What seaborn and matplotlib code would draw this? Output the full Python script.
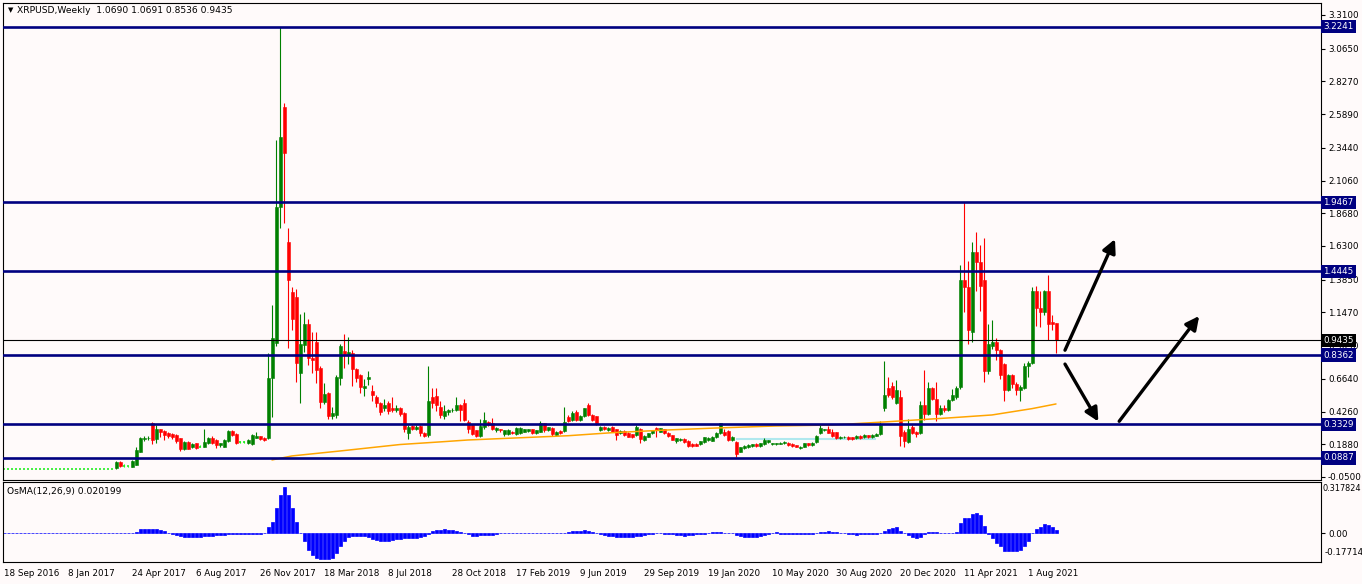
import matplotlib
matplotlib.use("Agg")
import matplotlib.pyplot as plt
import matplotlib.transforms as mtransforms
import numpy as np
import pandas as pd
import seaborn as sns

symbol = "XRPUSD"
timeframe = "Weekly"

# weekly candles, one value per bar (bar 0 = 18 Sep 2016)
opens = [
    0.01, 0.01, 0.01, 0.01, 0.01, 0.01, 0.01, 0.01, 0.01, 0.01,
    0.01, 0.01, 0.01, 0.01, 0.01, 0.01, 0.01, 0.01, 0.01, 0.01,
    0.01, 0.01, 0.01, 0.01, 0.01, 0.01, 0.01, 0.01, 0.012, 0.062,
    0.030, 0.028, 0.022, 0.040, 0.135, 0.225, 0.230, 0.340, 0.225, 0.296,
    0.285, 0.267, 0.262, 0.255, 0.230, 0.150, 0.205, 0.170, 0.195, 0.170,
    0.170, 0.195, 0.235, 0.220, 0.180, 0.170, 0.210, 0.285, 0.265, 0.206,
    0.206, 0.195, 0.190, 0.235, 0.245, 0.235, 0.231, 0.668, 0.922, 1.916,
    2.639, 1.661, 1.298, 1.261, 0.709, 0.910, 1.062, 0.818, 0.934, 0.741,
    0.498, 0.559, 0.394, 0.400, 0.668, 0.866, 0.840, 0.854, 0.733, 0.692,
    0.600, 0.660, 0.575, 0.530, 0.486, 0.450, 0.486, 0.455, 0.438, 0.455,
    0.418, 0.273, 0.324, 0.300, 0.324, 0.270, 0.252, 0.530, 0.540, 0.460,
    0.390, 0.425, 0.435, 0.440, 0.470, 0.485, 0.350, 0.327, 0.290, 0.248,
    0.310, 0.350, 0.340, 0.290, 0.296, 0.260, 0.260, 0.280, 0.263, 0.267,
    0.280, 0.287, 0.296, 0.267, 0.280, 0.340, 0.290, 0.303, 0.255, 0.285,
    0.285, 0.388, 0.364, 0.420, 0.364, 0.390, 0.475, 0.400, 0.390, 0.291,
    0.315, 0.290, 0.315, 0.296, 0.267, 0.286, 0.270, 0.260, 0.255, 0.300,
    0.222, 0.243, 0.267, 0.303, 0.280, 0.296, 0.270, 0.255, 0.214, 0.222,
    0.226, 0.214, 0.190, 0.190, 0.190, 0.206, 0.218, 0.214, 0.238, 0.267,
    0.280, 0.286, 0.218, 0.206, 0.134, 0.160, 0.165, 0.175, 0.190, 0.175,
    0.190, 0.206, 0.190, 0.190, 0.192, 0.194, 0.200, 0.190, 0.182, 0.160,
    0.170, 0.194, 0.182, 0.206, 0.267, 0.290, 0.296, 0.280, 0.274, 0.230,
    0.238, 0.243, 0.240, 0.230, 0.250, 0.240, 0.255, 0.240, 0.250, 0.260,
    0.450, 0.594, 0.610, 0.490, 0.530, 0.280, 0.205, 0.315, 0.280, 0.270,
    0.470, 0.410, 0.594, 0.520, 0.410, 0.455, 0.436, 0.510, 0.530, 0.605,
    1.380, 1.330, 1.007, 1.585, 1.510, 1.380, 0.720, 0.900, 0.930, 0.872,
    0.770, 0.585, 0.690, 0.625, 0.580, 0.595, 0.755, 0.780, 1.300, 1.180,
    1.150, 1.300, 1.080, 1.0690,
]
highs = [
    0.01, 0.01, 0.01, 0.01, 0.01, 0.01, 0.01, 0.01, 0.01, 0.01,
    0.01, 0.01, 0.01, 0.01, 0.01, 0.01, 0.01, 0.01, 0.01, 0.01,
    0.01, 0.01, 0.01, 0.01, 0.01, 0.01, 0.01, 0.01, 0.066, 0.068,
    0.045, 0.032, 0.075, 0.170, 0.240, 0.250, 0.245, 0.352, 0.330, 0.300,
    0.290, 0.275, 0.270, 0.262, 0.235, 0.215, 0.215, 0.195, 0.200, 0.180,
    0.300, 0.240, 0.245, 0.225, 0.200, 0.225, 0.290, 0.290, 0.270, 0.215,
    0.212, 0.225, 0.262, 0.275, 0.250, 0.240, 0.850, 1.200, 2.400, 3.225,
    2.668, 1.759, 1.334, 1.315, 1.135, 1.150, 1.100, 1.007, 1.007, 0.760,
    0.630, 0.565, 0.460, 0.690, 0.920, 0.990, 0.970, 0.870, 0.740, 0.700,
    0.660, 0.720, 0.620, 0.545, 0.495, 0.520, 0.500, 0.530, 0.470, 0.460,
    0.425, 0.330, 0.330, 0.325, 0.330, 0.275, 0.755, 0.600, 0.600, 0.500,
    0.470, 0.445, 0.450, 0.530, 0.480, 0.520, 0.365, 0.335, 0.295, 0.370,
    0.420, 0.360, 0.380, 0.315, 0.300, 0.295, 0.300, 0.285, 0.310, 0.310,
    0.300, 0.300, 0.300, 0.295, 0.360, 0.345, 0.315, 0.310, 0.285, 0.290,
    0.460, 0.400, 0.430, 0.440, 0.400, 0.455, 0.490, 0.410, 0.395, 0.320,
    0.320, 0.310, 0.320, 0.300, 0.290, 0.290, 0.275, 0.265, 0.330, 0.305,
    0.255, 0.270, 0.295, 0.310, 0.306, 0.300, 0.275, 0.258, 0.235, 0.230,
    0.230, 0.218, 0.195, 0.195, 0.215, 0.242, 0.240, 0.248, 0.276, 0.345,
    0.300, 0.290, 0.248, 0.212, 0.170, 0.180, 0.188, 0.192, 0.195, 0.198,
    0.235, 0.222, 0.200, 0.200, 0.202, 0.210, 0.204, 0.194, 0.186, 0.174,
    0.198, 0.198, 0.204, 0.255, 0.330, 0.302, 0.320, 0.300, 0.278, 0.248,
    0.248, 0.247, 0.244, 0.254, 0.254, 0.260, 0.258, 0.260, 0.270, 0.360,
    0.790, 0.680, 0.640, 0.654, 0.580, 0.290, 0.370, 0.330, 0.285, 0.500,
    0.730, 0.640, 0.605, 0.640, 0.470, 0.470, 0.520, 0.590, 0.610, 1.490,
    1.950, 1.520, 1.660, 1.730, 1.640, 1.690, 1.060, 1.090, 0.960, 0.880,
    0.780, 0.700, 0.700, 0.640, 0.620, 0.780, 0.790, 1.330, 1.340, 1.300,
    1.310, 1.420, 1.125, 1.0691,
]
lows = [
    0.01, 0.01, 0.01, 0.01, 0.01, 0.01, 0.01, 0.01, 0.01, 0.01,
    0.01, 0.01, 0.01, 0.01, 0.01, 0.01, 0.01, 0.01, 0.01, 0.01,
    0.01, 0.01, 0.01, 0.01, 0.01, 0.01, 0.01, 0.01, 0.010, 0.020,
    0.020, 0.026, 0.020, 0.035, 0.130, 0.215, 0.220, 0.190, 0.200, 0.240,
    0.220, 0.235, 0.225, 0.200, 0.140, 0.145, 0.150, 0.160, 0.155, 0.165,
    0.165, 0.190, 0.190, 0.160, 0.170, 0.165, 0.205, 0.250, 0.190, 0.200,
    0.200, 0.190, 0.185, 0.230, 0.220, 0.215, 0.225, 0.389, 0.900, 1.759,
    1.800, 0.886, 1.019, 0.643, 0.486, 0.861, 0.765, 0.704, 0.631, 0.450,
    0.480, 0.370, 0.370, 0.380, 0.620, 0.740, 0.770, 0.610, 0.640, 0.560,
    0.540, 0.620, 0.500, 0.460, 0.400, 0.430, 0.410, 0.420, 0.420, 0.390,
    0.280, 0.226, 0.290, 0.290, 0.250, 0.240, 0.240, 0.450, 0.430, 0.380,
    0.370, 0.400, 0.425, 0.430, 0.360, 0.360, 0.270, 0.255, 0.240, 0.240,
    0.300, 0.320, 0.290, 0.280, 0.280, 0.250, 0.255, 0.262, 0.255, 0.260,
    0.275, 0.280, 0.265, 0.260, 0.275, 0.280, 0.285, 0.250, 0.250, 0.260,
    0.280, 0.350, 0.355, 0.355, 0.355, 0.385, 0.395, 0.355, 0.330, 0.285,
    0.295, 0.285, 0.275, 0.218, 0.260, 0.250, 0.238, 0.235, 0.250, 0.196,
    0.215, 0.238, 0.262, 0.243, 0.275, 0.262, 0.240, 0.218, 0.194, 0.215,
    0.200, 0.170, 0.170, 0.172, 0.185, 0.200, 0.214, 0.210, 0.234, 0.262,
    0.250, 0.215, 0.212, 0.097, 0.128, 0.155, 0.160, 0.170, 0.170, 0.170,
    0.185, 0.200, 0.186, 0.186, 0.188, 0.190, 0.178, 0.170, 0.165, 0.156,
    0.166, 0.178, 0.178, 0.200, 0.260, 0.285, 0.268, 0.242, 0.226, 0.225,
    0.234, 0.222, 0.222, 0.226, 0.226, 0.236, 0.236, 0.236, 0.246, 0.255,
    0.430, 0.530, 0.520, 0.480, 0.175, 0.165, 0.200, 0.260, 0.240, 0.265,
    0.364, 0.400, 0.510, 0.360, 0.400, 0.425, 0.430, 0.500, 0.520, 0.590,
    1.150, 0.915, 0.930, 1.300, 1.160, 0.640, 0.700, 0.880, 0.800, 0.660,
    0.500, 0.575, 0.600, 0.545, 0.505, 0.590, 0.680, 0.770, 1.050, 1.040,
    1.130, 0.944, 1.020, 0.8536,
]
closes = [
    0.01, 0.01, 0.01, 0.01, 0.01, 0.01, 0.01, 0.01, 0.01, 0.01,
    0.01, 0.01, 0.01, 0.01, 0.01, 0.01, 0.01, 0.01, 0.01, 0.01,
    0.01, 0.01, 0.01, 0.01, 0.01, 0.01, 0.01, 0.01, 0.062, 0.030,
    0.030, 0.028, 0.066, 0.146, 0.230, 0.235, 0.236, 0.220, 0.296, 0.275,
    0.255, 0.250, 0.240, 0.210, 0.150, 0.205, 0.155, 0.187, 0.163, 0.170,
    0.206, 0.230, 0.195, 0.180, 0.195, 0.220, 0.285, 0.255, 0.195, 0.206,
    0.206, 0.220, 0.255, 0.245, 0.225, 0.220, 0.668, 0.959, 1.916, 2.425,
    2.309, 1.383, 1.099, 0.777, 0.917, 1.062, 0.813, 0.800, 0.728, 0.498,
    0.554, 0.394, 0.413, 0.675, 0.900, 0.842, 0.860, 0.733, 0.672, 0.602,
    0.610, 0.680, 0.546, 0.486, 0.425, 0.474, 0.430, 0.438, 0.455, 0.409,
    0.297, 0.316, 0.302, 0.316, 0.268, 0.249, 0.505, 0.490, 0.470, 0.400,
    0.430, 0.436, 0.440, 0.470, 0.436, 0.364, 0.300, 0.262, 0.248, 0.320,
    0.364, 0.330, 0.300, 0.305, 0.290, 0.290, 0.295, 0.267, 0.303, 0.303,
    0.296, 0.296, 0.272, 0.291, 0.340, 0.290, 0.310, 0.260, 0.280, 0.267,
    0.352, 0.360, 0.412, 0.364, 0.390, 0.448, 0.400, 0.364, 0.340, 0.315,
    0.300, 0.305, 0.280, 0.255, 0.286, 0.255, 0.243, 0.240, 0.315, 0.225,
    0.250, 0.267, 0.291, 0.291, 0.303, 0.267, 0.245, 0.222, 0.230, 0.226,
    0.206, 0.175, 0.175, 0.178, 0.210, 0.238, 0.236, 0.243, 0.272, 0.340,
    0.255, 0.222, 0.243, 0.120, 0.165, 0.175, 0.182, 0.187, 0.175, 0.194,
    0.218, 0.218, 0.196, 0.196, 0.198, 0.206, 0.182, 0.175, 0.170, 0.170,
    0.194, 0.182, 0.200, 0.250, 0.303, 0.296, 0.272, 0.248, 0.230, 0.243,
    0.243, 0.226, 0.226, 0.250, 0.230, 0.255, 0.240, 0.255, 0.265, 0.330,
    0.545, 0.545, 0.530, 0.580, 0.250, 0.210, 0.300, 0.270, 0.260, 0.470,
    0.410, 0.594, 0.520, 0.410, 0.455, 0.436, 0.510, 0.545, 0.600, 1.380,
    1.330, 1.017, 1.585, 1.510, 1.340, 0.720, 0.915, 0.930, 0.872, 0.690,
    0.585, 0.690, 0.625, 0.580, 0.605, 0.755, 0.780, 1.300, 1.180, 1.150,
    1.300, 1.065, 1.060, 0.9435,
]

# OsMA(12,26,9) histogram, one value per bar
osma = [
    0.0, 0.0, 0.0, 0.0, 0.0, 0.0, 0.0, 0.0, 0.0, 0.0,
    0.0, 0.0, 0.0, 0.0, 0.0, 0.0, 0.0, 0.0, 0.0, 0.0,
    0.0, 0.0, 0.0, 0.0, 0.0, 0.0, 0.0, 0.0, 0.0, 0.0,
    0.0, 0.0, 0.003, 0.010, 0.025, 0.030, 0.030, 0.030, 0.027, 0.020,
    0.012, 0.005, -0.004, -0.012, -0.016, -0.020, -0.022, -0.024, -0.022, -0.020,
    -0.018, -0.016, -0.014, -0.012, -0.010, -0.008, -0.006, -0.006, -0.006, -0.006,
    -0.006, -0.005, -0.003, -0.004, -0.002, 0.0, 0.037, 0.070, 0.155, 0.238,
    0.288, 0.236, 0.155, 0.068, 0.0, -0.045, -0.100, -0.135, -0.155, -0.158,
    -0.158, -0.156, -0.150, -0.120, -0.078, -0.050, -0.020, -0.014, -0.014, -0.014,
    -0.018, -0.024, -0.034, -0.040, -0.045, -0.045, -0.045, -0.040, -0.034, -0.034,
    -0.030, -0.030, -0.028, -0.028, -0.024, -0.014, -0.004, 0.012, 0.020, 0.022,
    0.028, 0.022, 0.020, 0.016, 0.010, 0.004, -0.006, -0.016, -0.016, -0.010,
    -0.010, -0.010, -0.010, -0.006, 0.0, 0.0, 0.0, 0.0, 0.0, 0.004,
    0.004, 0.004, 0.004, 0.004, 0.004, 0.004, 0.002, 0.002, 0.0, 0.002,
    0.004, 0.006, 0.014, 0.014, 0.014, 0.020, 0.014, 0.006, 0.0, -0.006,
    -0.010, -0.016, -0.016, -0.024, -0.024, -0.024, -0.024, -0.024, -0.016, -0.016,
    -0.010, -0.006, -0.006, 0.004, 0.004, -0.006, -0.006, -0.006, -0.010, -0.010,
    -0.016, -0.010, -0.010, -0.006, -0.006, -0.006, 0.0, 0.006, 0.006, 0.006,
    0.004, 0.002, 0.0, -0.010, -0.016, -0.024, -0.024, -0.024, -0.020, -0.016,
    -0.010, -0.006, 0.0, 0.006, -0.006, -0.006, -0.006, -0.006, -0.006, -0.006,
    -0.006, -0.004, -0.002, 0.004, 0.006, 0.010, 0.014, 0.010, 0.006, 0.0,
    0.0, -0.006, -0.006, -0.010, -0.006, -0.006, -0.006, -0.006, -0.004, 0.004,
    0.016, 0.030, 0.035, 0.040, 0.016, 0.0, -0.010, -0.024, -0.030, -0.020,
    -0.004, 0.010, 0.006, 0.006, 0.0, 0.0, 0.0, 0.0, 0.010, 0.065,
    0.096, 0.096, 0.118, 0.126, 0.112, 0.045, -0.004, -0.030, -0.057, -0.081,
    -0.110, -0.110, -0.110, -0.110, -0.100, -0.081, -0.050, 0.0, 0.026, 0.037,
    0.057, 0.051, 0.037, 0.020199,
]
osma_top = 0.317824
osma_bottom = -0.17714

# slow moving average, read at a few bars
ma_bars = [67, 72, 84, 99, 109, 116, 141, 152, 166, 178, 193, 207, 220, 237, 247, 257, 263]
ma_values = [0.074, 0.103, 0.139, 0.186, 0.205, 0.219, 0.250, 0.272, 0.292, 0.306,
             0.321, 0.328, 0.350, 0.381, 0.401, 0.447, 0.481]

levels = [3.2241, 1.9467, 1.4445, 0.8362, 0.3329, 0.0887]
price_ticks = [3.31, 3.065, 2.827, 2.589, 2.344, 2.106, 1.868, 1.63, 1.385, 1.147,
               0.909, 0.664, 0.426, 0.188, -0.05]
date_labels = ['18 Sep 2016', '8 Jan 2017', '24 Apr 2017', '6 Aug 2017', '26 Nov 2017',
               '18 Mar 2018', '8 Jul 2018', '28 Oct 2018', '17 Feb 2019', '9 Jun 2019',
               '29 Sep 2019', '19 Jan 2020', '10 May 2020', '30 Aug 2020', '20 Dec 2020',
               '11 Apr 2021', '1 Aug 2021']
bars_per_label = 16

# light cyan segment (start bar, end bar, price)
cyan_seg = (183, 218, 0.229)

# hand drawn arrows (bar, price)
arrow_tails = [(265.25, 0.872), (265.25, 0.771), (278.8, 0.355)]
arrow_heads = [(277.75, 1.680), (273.6, 0.353), (298.8, 1.121)]

FS = 6.3


def main():
    df = pd.DataFrame({'open': opens, 'high': highs, 'low': lows,
                       'close': closes, 'osma': osma})
    df['bar'] = np.arange(len(df))

    sns.set_theme(style="white", rc={
        'figure.facecolor': '#fffafa',
        'axes.facecolor': '#fffafa',
        'axes.edgecolor': 'black',
        'axes.linewidth': 0.8,
        'xtick.color': 'black',
        'ytick.color': 'black',
        'text.color': 'black',
    })
    plt.rcParams['font.family'] = ['DejaVu Sans']

    fig = plt.figure(figsize=(13.62, 5.84), dpi=100)
    W, H = 1362, 584
    ax = fig.add_axes([3 / W, (H - 480) / H, 1318 / W, 477 / H])
    ax2 = fig.add_axes([3 / W, (H - 562) / H, 1318 / W, 80 / H])

    # candles
    up = df[df.close > df.open]
    dn = df[df.close < df.open]
    dj = df[df.close == df.open]
    for part, col in ((up, '#008000'), (dn, '#ff0000')):
        ax.vlines(part.bar, part.low, part.high, color=col, lw=0.8, zorder=2)
        ax.bar(part.bar, (part.close - part.open).abs(),
               bottom=part[['open', 'close']].min(axis=1),
               width=0.75, color=col, edgecolor=col, lw=0.4, zorder=2)
    ax.vlines(dj.bar, dj.low, dj.high, color='#00ff00', lw=0.8, zorder=2)
    ax.hlines(dj.close, dj.bar - 0.36, dj.bar + 0.36, color='#22ee22', lw=1.2, zorder=2)

    # moving average
    sns.lineplot(x=ma_bars, y=ma_values, ax=ax, color='#ffa500', lw=1.1, zorder=3)
    ax.hlines(cyan_seg[2], cyan_seg[0], cyan_seg[1], color='#b0e8ee', lw=1.5, zorder=1.5)

    # horizontal levels
    for lv in levels:
        ax.axhline(lv, color='#000080', lw=1.9, zorder=3)
    last = df.close.iloc[-1]
    ax.axhline(last, color='black', lw=0.8, zorder=3)

    ax.set_xlim(-0.25, 329.25)
    ax.set_ylim(-0.072, 3.397)
    ax.set_xticks([])
    ax.yaxis.tick_right()
    ax.set_yticks(price_ticks)
    ax.set_yticklabels([f"{v:.4f}" for v in price_ticks])
    ax.tick_params(axis='y', direction='out', length=3, width=0.8, labelsize=FS, pad=2)
    ax.set_xlabel('')
    ax.set_ylabel('')

    blend = mtransforms.blended_transform_factory(ax.transAxes, ax.transData)
    for lv in levels:
        ax.text(1.0018, lv, f"{lv:.4f}", transform=blend, color='white', fontsize=FS,
                va='center', ha='left', zorder=6, clip_on=False,
                bbox=dict(boxstyle='square,pad=0.25', fc='#000080', ec='none'))
    ax.text(1.0018, last, f"{last:.4f}", transform=blend, color='white', fontsize=FS,
            va='center', ha='left', zorder=6, clip_on=False,
            bbox=dict(boxstyle='square,pad=0.25', fc='black', ec='none'))

    # arrows
    for (x0, y0), (x1, y1) in zip(arrow_tails, arrow_heads):
        ax.annotate('', xy=(x1, y1), xytext=(x0, y0),
                    arrowprops=dict(arrowstyle='-|>', color='black', lw=2.4,
                                    mutation_scale=20, shrinkA=0, shrinkB=0),
                    zorder=5)

    ax.text(0.0035, 0.985, '\u25bc', transform=ax.transAxes, fontsize=5,
            va='center', ha='left')
    ax.text(0.0105, 0.985,
            f"{symbol},{timeframe}  {opens[-1]:.4f} {highs[-1]:.4f} {lows[-1]:.4f} {closes[-1]:.4f}",
            transform=ax.transAxes, fontsize=6.6, va='center', ha='left')

    # OsMA sub window
    ax2.bar(df.bar, df.osma, width=0.75, color='#0000ff', edgecolor='#0000ff', lw=0.5)
    ax2.set_xlim(-0.25, 329.25)
    ax2.set_ylim(osma_bottom, osma_top)
    ax2.yaxis.tick_right()
    ax2.set_yticks([0.0])
    ax2.set_yticklabels(['0.00'])
    ax2.tick_params(axis='y', direction='out', length=3, width=0.8, labelsize=FS, pad=2)
    ax2.text(1.0015, 0.97, f"{osma_top:.6f}", transform=ax2.transAxes,
             fontsize=5.9, va='top', ha='left')
    ax2.text(1.0025, 0.06, f"{osma_bottom:.5f}", transform=ax2.transAxes,
             fontsize=FS, va='bottom', ha='left')
    ax2.text(0.003, 0.88, f"OsMA(12,26,9) {osma[-1]:.6f}", transform=ax2.transAxes,
             fontsize=6.6, va='center', ha='left')

    tick_bars = [k * bars_per_label for k in range(len(date_labels))]
    ax2.set_xticks(tick_bars)
    ax2.set_xticklabels(date_labels, ha='left')
    ax2.tick_params(axis='x', direction='out', length=3, width=0.8, labelsize=FS, pad=2)
    ax2.set_xlabel('')
    ax2.set_ylabel('')

    for a in (ax, ax2):
        for s in a.spines.values():
            s.set_visible(True)
            s.set_color('black')
            s.set_linewidth(0.8)

    fig.savefig('out.png', dpi=100, facecolor=fig.get_facecolor())


if __name__ == "__main__":
    main()
